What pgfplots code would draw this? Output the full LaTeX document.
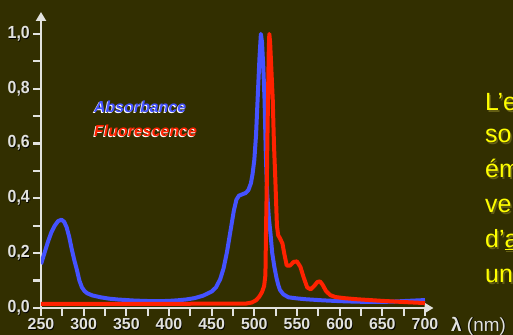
\documentclass[border=0pt]{standalone}
\usepackage{pgfplots}
\pgfplotsset{compat=1.18}
\usepackage{pgfplotstable}
\usepackage{fontspec}
\setmainfont{Liberation Sans}
\usetikzlibrary{arrows.meta}
\definecolor{bg}{RGB}{50,47,0}
\definecolor{absblue}{RGB}{68,82,255}
\definecolor{fluored}{RGB}{255,34,0}
\definecolor{axisgrey}{RGB}{226,226,222}
\definecolor{txtyellow}{RGB}{255,255,0}
\definecolor{yshadow}{RGB}{100,95,20}
\newcommand\shadowed[4]{\leavevmode\rlap{\hspace{#1}\raisebox{#2}{\textcolor{#3}{#4}}}#4}
\newcommand\tall[1]{\scalebox{1}[1.1]{#1}}

\pgfplotstableread{
nm a
250 0.16
254 0.20
258 0.24
262 0.275
266 0.30
270 0.317
274 0.322
277 0.315
280 0.295
283 0.26
286 0.215
289 0.175
292 0.14
295 0.10
298 0.075
301 0.062
304 0.054
310 0.046
320 0.039
330 0.034
340 0.031
350 0.029
360 0.027
370 0.026
380 0.025
390 0.025
400 0.026
410 0.028
420 0.031
430 0.036
440 0.045
450 0.06
455 0.075
460 0.105
464 0.145
468 0.205
472 0.28
476 0.355
479 0.395
482 0.41
486 0.415
490 0.42
493 0.43
496 0.455
498 0.49
500 0.54
502 0.63
504 0.77
506 0.91
507.7 1.0
509 0.97
510.5 0.88
512 0.76
513.5 0.56
515 0.42
517 0.33
519 0.27
521 0.20
523.5 0.15
526 0.11
528 0.085
530 0.066
534 0.05
540 0.039
550 0.035
560 0.032
580 0.028
600 0.025
620 0.023
640 0.022
660 0.023
680 0.026
700 0.029
}\absdata

\pgfplotstableread{
nm f
250 0.015
300 0.015
350 0.015
400 0.015
450 0.016
490 0.016
497 0.02
502 0.028
506 0.042
509 0.058
511.5 0.08
513 0.12
513.8 0.3
514.6 0.45
515.5 0.65
516.3 0.82
517 0.95
517.6 1.0
518.5 0.97
520 0.87
521.6 0.76
523 0.60
524.5 0.48
525.5 0.39
526.5 0.30
528 0.265
530 0.255
533 0.235
535 0.20
538 0.155
542 0.155
546 0.168
550 0.17
554 0.15
558 0.11
562 0.075
566 0.068
570 0.08
574 0.095
577 0.097
580 0.085
584 0.062
589 0.047
595 0.04
605 0.036
620 0.032
650 0.026
680 0.021
700 0.018
}\fluodata

\begin{document}
\begin{tikzpicture}
\useasboundingbox (0,0) rectangle (513bp,335bp);
\fill[bg] (0,0) rectangle (513bp,335bp);
\begin{axis}[
  at={(41bp,27bp)}, anchor=south west,
  scale only axis,
  width=392.5bp, height=296bp,
  xmin=250, xmax=710, ymin=0, ymax=1.08,
  axis x line=bottom, axis y line=left,
  axis line style={line width=2.8bp, color=axisgrey, -{Triangle[length=9bp,width=10bp]}},
  xtick={250,300,...,700}, minor x tick num=1,
  ytick={0,0.2,0.4,0.6,0.8,1.0}, minor y tick num=1,
  tick align=outside,
  major tick length=8bp, minor tick length=8bp,
  every tick/.style={line width=2.2bp, color=axisgrey},
  /pgf/number format/assume math mode=true,
  ticklabel style={font=\bfseries\fontsize{16}{16}\selectfont, text=axisgrey, inner sep=3bp},
  xticklabel style={inner sep=2bp},
  xticklabel={\shadowed{0.8bp}{-0.8bp}{black}{\pgfmathprintnumber[fixed,precision=0]{\tick}}},
  yticklabel={\tall{\shadowed{0.8bp}{-0.8bp}{black}{\pgfmathprintnumber[fixed,fixed zerofill,precision=1,use comma]{\tick}}}},
]
\addplot[absblue, line width=4bp, line join=round] table[x=nm,y=a] {\absdata};
\addplot[fluored, line width=4bp, line join=round] table[x=nm,y=f] {\fluodata};
\end{axis}
\node[anchor=west, inner sep=0pt, font=\bfseries\itshape\fontsize{16}{16}\selectfont, text=absblue] at (94bp,228bp) {\shadowed{-1bp}{-1bp}{white}{Absorbance}};
\node[anchor=west, inner sep=0pt, font=\bfseries\itshape\fontsize{16}{16}\selectfont, text=fluored] at (94bp,204bp) {\shadowed{-1bp}{-1bp}{white}{Fluorescence}};
\node[anchor=base west, inner sep=0pt, font=\fontsize{19}{19}\selectfont, text=axisgrey] at (451bp,4bp) {\shadowed{0.8bp}{-0.8bp}{black}{\textbf{λ} (nm)}};
\begin{scope}[every node/.style={anchor=base west, inner sep=0pt, font=\fontsize{25}{25}\selectfont, text=txtyellow}]
\node at (485bp,224bp) {\shadowed{1.5bp}{-1.5bp}{yshadow}{L’e}};
\node at (485bp,192bp) {\shadowed{1.5bp}{-1.5bp}{yshadow}{so}};
\node at (485bp,157bp) {\shadowed{1.5bp}{-1.5bp}{yshadow}{ém}};
\node at (485bp,122bp) {\shadowed{1.5bp}{-1.5bp}{yshadow}{ve}};
\node at (485bp,87bp) {\shadowed{1.5bp}{-1.5bp}{yshadow}{d’\underline{a}}};
\node at (485bp,52bp) {\shadowed{1.5bp}{-1.5bp}{yshadow}{un}};
\end{scope}
\end{tikzpicture}
\end{document}
